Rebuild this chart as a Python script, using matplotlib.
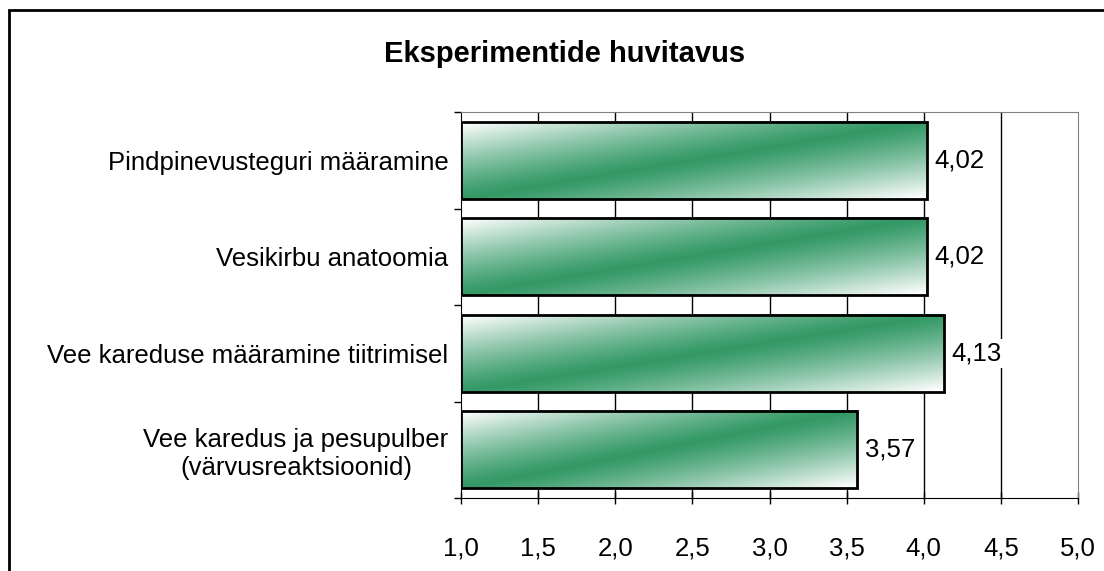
import matplotlib.pyplot as plt
import matplotlib.patches as mpatches
import numpy as np

categories = [
    "Pindpinevusteguri määramine",
    "Vesikirbu anatoomia",
    "Vee kareduse määramine tiitrimisel",
    "Vee karedus ja pesupulber\n(värvusreaktsioonid)",
]
values = [4.02, 4.02, 4.13, 3.57]
value_labels = ["4,02", "4,02", "4,13", "3,57"]
x_ticks = [1.0, 1.5, 2.0, 2.5, 3.0, 3.5, 4.0, 4.5, 5.0]
x_tick_labels = ["1,0", "1,5", "2,0", "2,5", "3,0", "3,5", "4,0", "4,5", "5,0"]
title = "Eksperimentide huvitavus"

plt.rcParams['font.family'] = ['Liberation Sans', 'DejaVu Sans']

W, H = 1104, 571
fig = plt.figure(figsize=(W / 100, H / 100), dpi=100)
ax = fig.add_axes([461 / W, 1 - 498 / H, (1078 - 461) / W, (498 - 112) / H])

ypos = np.arange(len(categories))
bars = ax.barh(ypos, np.array(values) - 1.0, left=1.0, height=0.8,
               facecolor='none', edgecolor='black', linewidth=2, zorder=4)

# diagonal gradient: white corners, green band along the rising diagonal
green = np.array([51, 153, 102]) / 255.0
n = 200
u = np.linspace(0, 1, n)[None, :]
v = np.linspace(1, 0, n)[:, None]  # row 0 = top
t = np.clip(1 - np.abs(u - v) ** 1.2 * 1.03, 0, 1)
img = 1 - t[..., None] * (1 - green[None, None, :])

for b in bars:
    x0, y0, w, h = b.get_x(), b.get_y(), b.get_width(), b.get_height()
    # y axis inverted: top of bar is y0
    ax.imshow(img, extent=(x0, x0 + w, y0 + h, y0), aspect='auto',
              interpolation='bilinear', zorder=3)

for yy, val, lab in zip(ypos, values, value_labels):
    ax.annotate(lab, (val, yy), xytext=(5.5, 0), textcoords='offset points',
                ha='left', va='center', fontsize=18.5, zorder=5,
                bbox=dict(boxstyle='square,pad=0.1', fc='white', ec='none'))

ax.set_xlim(1.0, 5.0)
ax.set_ylim(len(categories) - 0.5, -0.5)

ax.set_xticks(x_ticks)
ax.set_xticklabels(x_tick_labels, fontsize=18.5)
ax.tick_params(axis='x', direction='inout', length=8, width=1, pad=24)

ax.set_yticks(ypos)
ax.set_yticklabels(categories, fontsize=18.5, multialignment='center')
ax.tick_params(axis='y', which='major', length=0, pad=9)
ax.set_yticks(np.arange(len(categories) + 1) - 0.5, minor=True)
ax.tick_params(axis='y', which='minor', direction='out', length=5, width=1)

for gx in x_ticks[1:-1]:
    ax.axvline(gx, color='black', linewidth=1, zorder=1)

ax.spines['top'].set_color('#808080')
ax.spines['right'].set_color('#808080')
ax.spines['left'].set_color('black')
ax.spines['bottom'].set_color('black')

fig.text(565 / W, 1 - 54 / H, title, ha='center', va='center',
         fontsize=21, fontweight='bold')

# outer chart frame (only left and top edges visible in the picture)
frame = mpatches.Rectangle((9 / W, -0.2), 1.3, 1.2 - 10 / H,
                           transform=fig.transFigure, fill=False,
                           edgecolor='black', linewidth=2)
fig.patches.append(frame)

fig.savefig('out.png', dpi=100)
